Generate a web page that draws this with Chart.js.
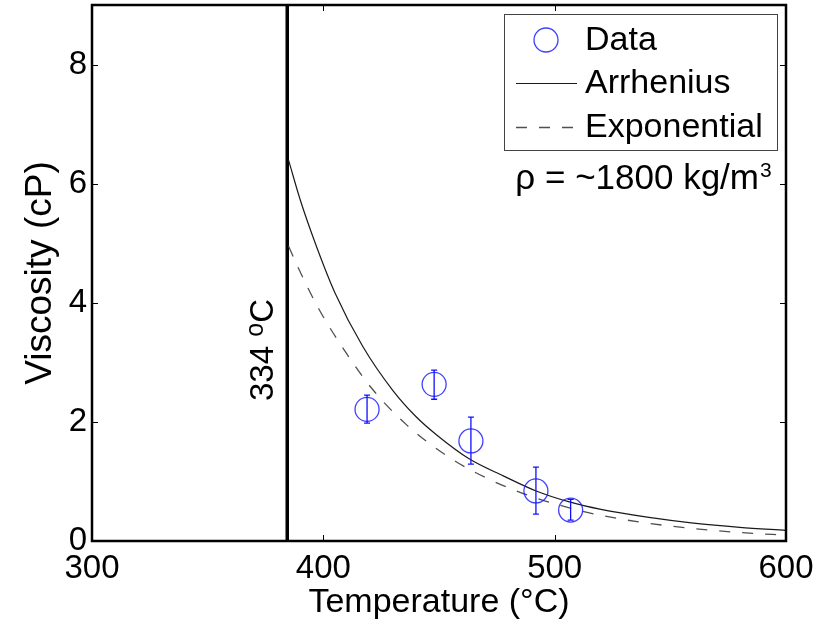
<!DOCTYPE html>
<html>
<head>
<meta charset="utf-8">
<script src="https://cdn.jsdelivr.net/npm/chart.js@4.4.0/dist/chart.umd.min.js"></script>
<style>
  html, body { margin: 0; padding: 0; background: #fff; }
  #wrap { width: 829px; height: 623px; }
</style>
</head>
<body>
<div id="wrap"><canvas id="chart" width="829" height="623"></canvas></div>
<script>
// measured points (temperature in C, viscosity in cP)
const dataTemp = [418.9, 447.9, 463.8, 491.9, 506.9];
const dataVisc = [2.21, 2.63, 1.68, 0.84, 0.52];
const errLow = [1.98, 2.38, 1.29, 0.45, 0.35];
const errHigh = [2.45, 2.87, 2.08, 1.24, 0.70];

// fitted curves
const arrTemp = [385, 390, 397, 405, 417, 430, 440, 449, 463, 478, 492, 506, 520, 540, 560, 580, 600];
const arrVisc = [6.39, 5.73, 4.95, 4.17, 3.27, 2.53, 2.09, 1.78, 1.38, 1.09, 0.84, 0.66, 0.53, 0.40, 0.30, 0.23, 0.18];
const expTemp = [385, 389, 398, 410, 421, 436, 455, 472, 492, 511, 520, 540, 568, 594, 600];
const expVisc = [4.95, 4.60, 3.90, 3.15, 2.56, 1.95, 1.39, 1.03, 0.72, 0.51, 0.43, 0.30, 0.18, 0.11, 0.10];

// vertical marker
const markerTemp = 384.4;
const markerLabel = ['334 ', 'o', 'C'];

const xTicks = [300, 400, 500, 600];
const yTicks = [0, 2, 4, 6, 8];
const xRange = [300, 600];
const yRange = [0, 9];

const legendLabels = ['Data', 'Arrhenius', 'Exponential'];
const densityLabel = 'ρ = ~1800 kg/m';

const FONT = '"Liberation Sans", Arial, Helvetica, sans-serif';
Chart.defaults.font.family = FONT;
Chart.defaults.color = '#000';

const blue = 'rgba(30,30,255,0.85)';

const toXY = (xs, ys) => xs.map((x, i) => ({ x: x, y: ys[i] }));

// no extra room for edge labels, the box is placed by layout padding
const noEdgePad = s => {
    s.paddingTop = 0; s.paddingBottom = 0;
    s.paddingLeft = 0; s.paddingRight = 0;
};

// error bars + box + inward ticks + legend + text notes
const decorations = {
    id: 'decorations',
    afterDatasetsDraw(chart) {
        const ctx = chart.ctx;
        const xs = chart.scales.x, ys = chart.scales.y;
        ctx.save();
        ctx.strokeStyle = '#1010ff';
        ctx.lineWidth = 1.3;
        dataTemp.forEach((t, i) => {
            const px = xs.getPixelForValue(t);
            const y1 = ys.getPixelForValue(errLow[i]);
            const y2 = ys.getPixelForValue(errHigh[i]);
            ctx.beginPath();
            ctx.moveTo(px, y1); ctx.lineTo(px, y2);
            ctx.moveTo(px - 3, y1); ctx.lineTo(px + 3, y1);
            ctx.moveTo(px - 3, y2); ctx.lineTo(px + 3, y2);
            ctx.stroke();
        });
        ctx.restore();
    },
    afterDraw(chart) {
        const ctx = chart.ctx;
        const a = chart.chartArea;
        const xs = chart.scales.x, ys = chart.scales.y;
        ctx.save();

        // inward ticks
        ctx.strokeStyle = '#000';
        ctx.lineWidth = 1;
        ctx.beginPath();
        xTicks.forEach(v => {
            const px = Math.round(xs.getPixelForValue(v)) + 0.5;
            ctx.moveTo(px, a.bottom); ctx.lineTo(px, a.bottom - 6);
            ctx.moveTo(px, a.top); ctx.lineTo(px, a.top + 6);
        });
        yTicks.forEach(v => {
            const py = Math.round(ys.getPixelForValue(v)) + 0.5;
            ctx.moveTo(a.left, py); ctx.lineTo(a.left + 6, py);
            ctx.moveTo(a.right, py); ctx.lineTo(a.right - 6, py);
        });
        ctx.stroke();

        // axes box
        ctx.lineWidth = 2.5;
        ctx.strokeRect(a.left, a.top, a.right - a.left, a.bottom - a.top);

        // legend
        const lx = 504, ly = 14, lw = 273, lh = 136;
        ctx.fillStyle = '#fff';
        ctx.fillRect(lx, ly, lw, lh);
        ctx.lineWidth = 1;
        ctx.strokeStyle = '#444';
        ctx.strokeRect(lx + 0.5, ly + 0.5, lw, lh);
        const rows = [40, 83, 127];
        const ds = chart.data.datasets;
        // Data marker
        ctx.strokeStyle = ds[0].borderColor;
        ctx.lineWidth = ds[0].borderWidth;
        ctx.beginPath();
        ctx.arc(546, rows[0], 12, 0, Math.PI * 2);
        ctx.stroke();
        // line samples
        [1, 2].forEach(k => {
            ctx.strokeStyle = ds[k].borderColor;
            ctx.lineWidth = ds[k].borderWidth;
            ctx.setLineDash(ds[k].borderDash || []);
            ctx.beginPath();
            ctx.moveTo(516, rows[k] + 0.5);
            ctx.lineTo(577, rows[k] + 0.5);
            ctx.stroke();
        });
        ctx.setLineDash([]);
        ctx.fillStyle = '#000';
        ctx.font = '34px ' + FONT;
        ctx.textAlign = 'left';
        ctx.textBaseline = 'middle';
        legendLabels.forEach((t, i) => ctx.fillText(t, 585, rows[i] + 1));

        // density note
        ctx.textBaseline = 'alphabetic';
        ctx.textAlign = 'right';
        ctx.font = '35px ' + FONT;
        ctx.fillText(densityLabel, 759, 189);
        ctx.textAlign = 'left';
        ctx.font = '21px ' + FONT;
        ctx.fillText('3', 760, 177);

        // marker label, rotated
        ctx.translate(273, 350);
        ctx.rotate(-Math.PI / 2);
        ctx.font = '33px ' + FONT;
        const w0 = ctx.measureText(markerLabel[0]).width;
        const w2 = ctx.measureText(markerLabel[2]).width;
        ctx.font = '25px ' + FONT;
        const w1 = ctx.measureText(markerLabel[1]).width;
        let cx = -(w0 + w1 + w2) / 2;
        ctx.font = '33px ' + FONT;
        ctx.fillText(markerLabel[0], cx, 0);
        cx += w0;
        ctx.font = '25px ' + FONT;
        ctx.fillText(markerLabel[1], cx, -10);
        cx += w1;
        ctx.font = '33px ' + FONT;
        ctx.fillText(markerLabel[2], cx, 0);

        ctx.restore();
    }
};

new Chart(document.getElementById('chart'), {
    type: 'scatter',
    data: {
        datasets: [
            {
                label: legendLabels[0],
                data: toXY(dataTemp, dataVisc),
                borderColor: blue,
                backgroundColor: 'rgba(0,0,0,0)',
                borderWidth: 1.3,
                pointRadius: 12,
                pointHoverRadius: 12,
                pointStyle: 'circle',
                order: 0
            },
            {
                label: legendLabels[1],
                data: toXY(arrTemp, arrVisc),
                showLine: true,
                borderColor: '#1a1a1a',
                borderWidth: 1.2,
                pointRadius: 0,
                cubicInterpolationMode: 'monotone',
                order: 1
            },
            {
                label: legendLabels[2],
                data: toXY(expTemp, expVisc),
                showLine: true,
                borderColor: '#505050',
                borderWidth: 1.3,
                borderDash: [11, 12],
                pointRadius: 0,
                cubicInterpolationMode: 'monotone',
                order: 2
            },
            {
                label: 'melt',
                data: [{ x: markerTemp, y: yRange[0] }, { x: markerTemp, y: yRange[1] }],
                showLine: true,
                borderColor: '#000',
                borderWidth: 3.5,
                pointRadius: 0,
                order: 3
            }
        ]
    },
    options: {
        responsive: false,
        animation: false,
        devicePixelRatio: 1,
        layout: { autoPadding: false, padding: { top: 5, right: 43, left: 0, bottom: 0 } },
        plugins: {
            legend: { display: false },
            tooltip: { enabled: false }
        },
        scales: {
            x: {
                type: 'linear',
                min: xRange[0],
                max: xRange[1],
                grid: { display: false, drawTicks: false },
                border: { display: false },
                afterBuildTicks: s => { s.ticks = xTicks.map(v => ({ value: v })); },
                afterFit: s => { s.height = 82; noEdgePad(s); },
                ticks: {
                    font: { size: 33 },
                    color: '#000',
                    padding: 8,
                    maxRotation: 0,
                    autoSkip: false
                },
                title: {
                    display: true,
                    text: 'Temperature (°C)',
                    font: { size: 34 },
                    color: '#000',
                    padding: { top: 0, bottom: 0 }
                }
            },
            y: {
                type: 'linear',
                min: yRange[0],
                max: yRange[1],
                grid: { display: false, drawTicks: false },
                border: { display: false },
                afterBuildTicks: s => { s.ticks = yTicks.map(v => ({ value: v })); },
                afterFit: s => { s.width = 92; noEdgePad(s); },
                ticks: {
                    font: { size: 33 },
                    color: '#000',
                    padding: 5
                },
                title: {
                    display: true,
                    text: 'Viscosity (cP)',
                    font: { size: 37 },
                    color: '#000',
                    padding: { top: 19, bottom: 0 }
                }
            }
        }
    },
    plugins: [decorations]
});
</script>
</body>
</html>
